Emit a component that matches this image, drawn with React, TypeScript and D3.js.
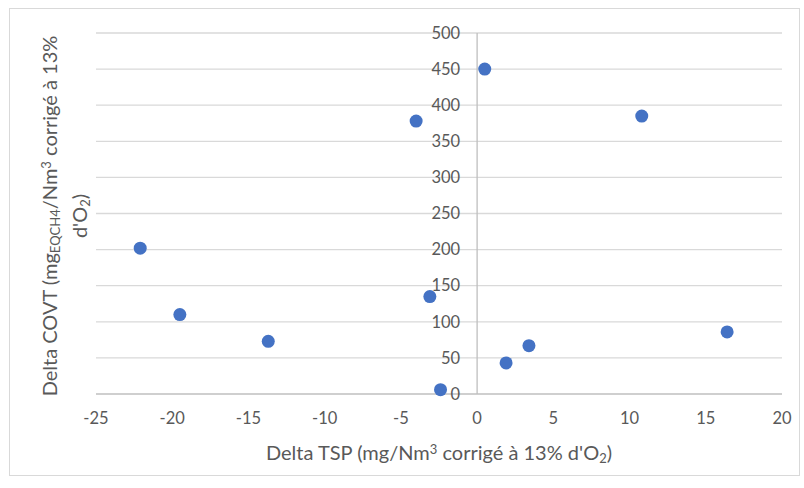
import * as d3 from 'd3';

const deltaTsp = [-22.1, -19.5, -13.7, -4.0, -3.1, -2.4, 0.5, 1.9, 3.4, 10.8, 16.4];
const deltaCovt = [202, 110, 73, 378, 135, 6, 450, 43, 67, 385, 86];
const xTicks = [-25, -20, -15, -10, -5, 0, 5, 10, 15, 20];
const yTicks = [0, 50, 100, 150, 200, 250, 300, 350, 400, 450, 500];

const W = 804;
const H = 488;
const font = 'Lato, "Open Sans", sans-serif';
const textColor = '#595959';

export default function App() {
  const x = d3.scaleLinear().domain([-25, 20]).range([96, 782]);
  const y = d3.scaleLinear().domain([0, 500]).range([394, 33]);

  return (
    <svg width={W} height={H} style={{ position: 'absolute', left: 0, top: 0 }}>
      <rect x={0} y={0} width={W} height={H} fill="#fff" />
      <rect x={9.5} y={8.5} width={790} height={467} fill="#fff" stroke="#d9d9d9" />

      {/* gridlines */}
      {yTicks.map((t) => (
        <line key={t} x1={x(-25)} x2={x(20)} y1={y(t)} y2={y(t)} stroke={t === 0 ? '#bfbfbf' : '#d9d9d9'} strokeWidth={1.3} />
      ))}
      {/* vertical axis at x=0 */}
      <line x1={x(0)} x2={x(0)} y1={y(500)} y2={y(0)} stroke="#bfbfbf" strokeWidth={1.3} />

      {/* y tick labels */}
      {yTicks.map((t) => (
        <text key={t} x={x(0) - 17} y={y(t)} dy="0.35em" textAnchor="end" fontFamily={font} fontSize={16.5} fill={textColor}>
          {t}
        </text>
      ))}
      {/* x tick labels */}
      {xTicks.map((t) => (
        <text key={t} x={x(t)} y={y(0) + 24} dy="0.35em" textAnchor="middle" fontFamily={font} fontSize={16.5} fill={textColor}>
          {t}
        </text>
      ))}

      {/* points */}
      {deltaTsp.map((v, i) => (
        <circle key={i} cx={x(v)} cy={y(deltaCovt[i])} r={6.5} fill="#4472c4" />
      ))}

      {/* x axis title */}
      <text x={(x(-25) + x(20)) / 2} y={460} textAnchor="middle" fontFamily={font} fontSize={20} fill={textColor}>
        Delta TSP (mg/Nm
        <tspan baselineShift="6" fontSize={13}>3</tspan>
        <tspan> corrigé à 13% d'O</tspan>
        <tspan baselineShift="-3" fontSize={13}>2</tspan>
        <tspan>)</tspan>
      </text>

      {/* y axis title */}
      <g transform="translate(0, 216) rotate(-90)">
        <text x={0} y={57} textAnchor="middle" fontFamily={font} fontSize={20} fill={textColor}>
          Delta COVT (mg
          <tspan baselineShift="-3" fontSize={13}>EQCH4</tspan>
          <tspan>/Nm</tspan>
          <tspan baselineShift="6" fontSize={13}>3</tspan>
          <tspan> corrigé à 13%</tspan>
        </text>
        <text x={0} y={87} textAnchor="middle" fontFamily={font} fontSize={20} fill={textColor}>
          d'O
          <tspan baselineShift="-3" fontSize={13}>2</tspan>
          <tspan>)</tspan>
        </text>
      </g>
    </svg>
  );
}
